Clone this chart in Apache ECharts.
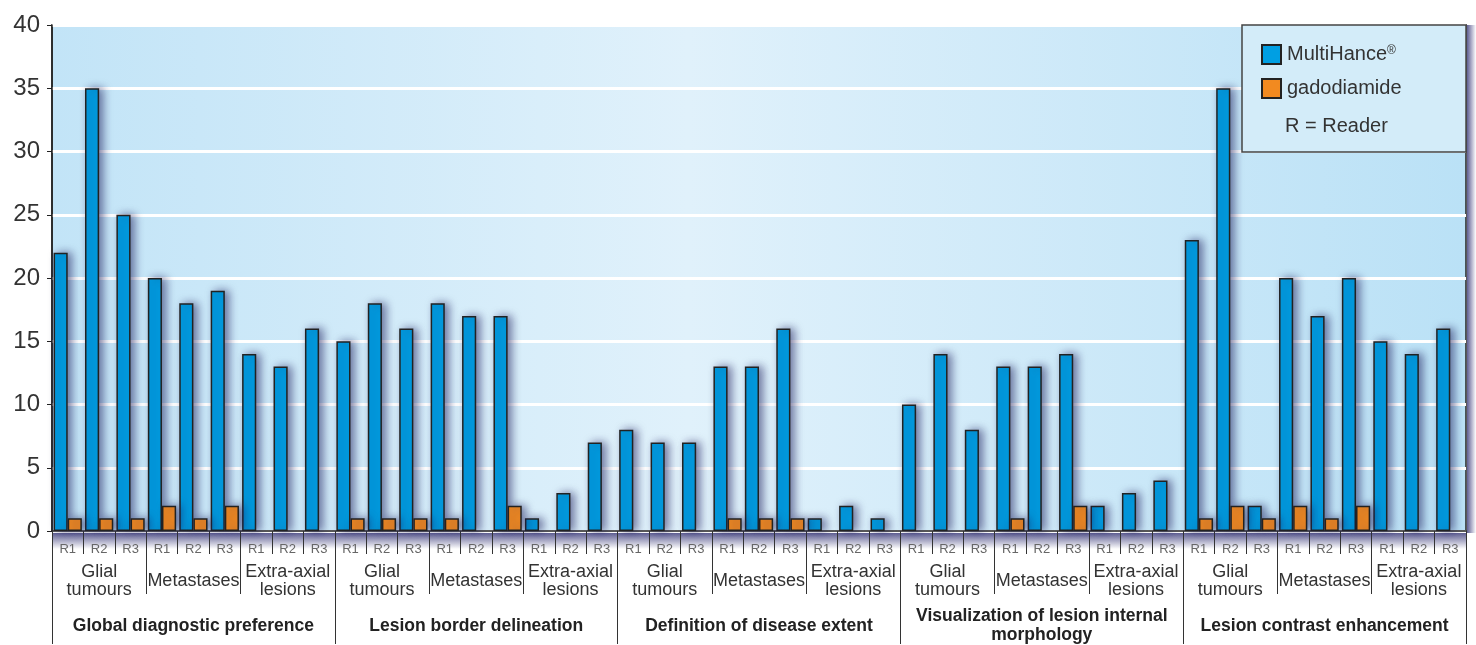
<!DOCTYPE html>
<html>
<head>
<meta charset="utf-8">
<script src="https://cdn.jsdelivr.net/npm/echarts@6/dist/echarts.min.js"></script>
<style>
  html, body { margin: 0; padding: 0; background: #fff; }
  #chart { width: 1476px; height: 645px; }
</style>
</head>
<body>
<div id="chart"></div>
<script>
var readers = ['R1', 'R2', 'R3'];
var lesionTypes = ['Glial\ntumours', 'Metastases', 'Extra-axial\nlesions'];
var criteria = [
  'Global diagnostic preference',
  'Lesion border delineation',
  'Definition of disease extent',
  'Visualization of lesion internal\nmorphology',
  'Lesion contrast enhancement'
];

// one row per criterion: glial R1-R3, metastases R1-R3, extra-axial R1-R3
var multiHance = [
  [22, 35, 25, 20, 18, 19, 14, 13, 16],
  [15, 18, 16, 18, 17, 17, 1, 3, 7],
  [8, 7, 7, 13, 13, 16, 1, 2, 1],
  [10, 14, 8, 13, 13, 14, 2, 3, 4],
  [23, 35, 2, 20, 17, 20, 15, 14, 16]
];
var gadodiamide = [
  [1, 1, 1, 2, 1, 2, 0, 0, 0],
  [1, 1, 1, 1, 0, 2, 0, 0, 0],
  [0, 0, 0, 1, 1, 1, 0, 0, 0],
  [0, 0, 0, 1, 0, 2, 0, 0, 0],
  [1, 2, 1, 2, 1, 2, 0, 0, 0]
];

var readerCats = [];
var typeCats = [];
criteria.forEach(function () {
  lesionTypes.forEach(function (t) {
    typeCats.push(t);
    readers.forEach(function (r) { readerCats.push(r); });
  });
});

function flat(rows) {
  var out = [];
  rows.forEach(function (r) {
    r.forEach(function (v) { out.push(v === 0 ? '-' : v); });
  });
  return out;
}

var myChart = echarts.init(document.getElementById('chart'));

var FONT = '"Liberation Sans", Arial, sans-serif';
var barShadow = {
  borderColor: '#222',
  borderWidth: 1.5,
  shadowColor: 'rgba(25,25,90,0.55)',
  shadowBlur: 8,
  shadowOffsetX: 4,
  shadowOffsetY: 0
};

var option = {
  animation: false,
  textStyle: { fontFamily: FONT },
  grid: {
    left: 52,
    right: 10,
    top: 25,
    bottom: 113,
    show: true,
    borderColor: '#222',
    borderWidth: 1.5,
    backgroundColor: new echarts.graphic.LinearGradient(0, 0, 1, 0, [
      { offset: 0, color: '#c2e4f7' },
      { offset: 0.45, color: '#e0f1fb' },
      { offset: 1, color: '#bae1f6' }
    ])
  },
  legend: {
    z: 10,
    left: 1256,
    top: 39,
    orient: 'vertical',
    icon: 'rect',
    itemWidth: 19,
    itemHeight: 19,
    itemGap: 13,
    formatter: function (name) {
      return name === 'MultiHance®' ? 'MultiHance{sup|®}' : name;
    },
    textStyle: {
      fontSize: 20, color: '#333', fontFamily: FONT, padding: [0, 0, 0, 1],
      rich: { sup: { fontSize: 12, color: '#333', fontFamily: FONT, padding: [0, 0, 8, 0] } }
    },
    data: ['MultiHance®', 'gadodiamide']
  },
  graphic: [
    {
      type: 'rect',
      z: 5,
      shape: { x: 1242, y: 25, width: 224, height: 127 },
      style: { fill: '#d3ecf9', stroke: '#444', lineWidth: 1.5 }
    },
    {
      type: 'text',
      z: 6,
      left: 1285,
      top: 116,
      style: { text: 'R = Reader', fontSize: 20, fill: '#333', fontFamily: FONT }
    },
    {
      type: 'rect',
      z: 0,
      shape: { x: 52, y: 533, width: 1414, height: 16 },
      style: {
        fill: new echarts.graphic.LinearGradient(0, 0, 0, 1, [
          { offset: 0, color: 'rgba(40,40,110,0.75)' },
          { offset: 1, color: 'rgba(40,40,110,0)' }
        ])
      }
    },
    {
      type: 'rect',
      z: 0,
      shape: { x: 1467, y: 25, width: 9, height: 508 },
      style: {
        fill: new echarts.graphic.LinearGradient(0, 0, 1, 0, [
          { offset: 0, color: 'rgba(40,40,110,0.75)' },
          { offset: 1, color: 'rgba(40,40,110,0)' }
        ])
      }
    }
  ],
  xAxis: [
    {
      type: 'category',
      position: 'bottom',
      data: readerCats,
      axisLine: { show: true, lineStyle: { color: '#222', width: 1.5 } },
      axisTick: { show: true, interval: 0, length: 23, lineStyle: { color: '#333' } },
      axisLabel: { interval: 0, margin: 18, verticalAlign: 'middle', fontSize: 13, color: '#666', fontFamily: FONT }
    },
    {
      type: 'category',
      position: 'bottom',
      data: typeCats,
      axisLine: { show: false },
      axisTick: { show: true, interval: 0, length: 63, lineStyle: { color: '#333' } },
      axisLabel: { interval: 0, margin: 50, verticalAlign: 'middle', fontSize: 18, lineHeight: 18, color: '#333', fontFamily: FONT }
    },
    {
      type: 'category',
      position: 'bottom',
      data: criteria,
      axisLine: { show: false },
      axisTick: { show: true, interval: 0, length: 113, lineStyle: { color: '#333' } },
      axisLabel: { interval: 0, margin: 95, verticalAlign: 'middle', fontSize: 17.5, lineHeight: 19, fontWeight: 'bold', color: '#222', fontFamily: FONT }
    }
  ],
  yAxis: {
    type: 'value',
    min: 0,
    max: 40,
    interval: 5,
    axisLine: { show: true, lineStyle: { color: '#222', width: 1.5 } },
    axisTick: { show: true, length: 5, lineStyle: { color: '#222' } },
    axisLabel: { fontSize: 24, color: '#333', margin: 12, fontFamily: FONT },
    splitLine: { show: true, lineStyle: { color: '#ffffff', width: 3 } }
  },
  series: [
    {
      name: 'MultiHance®',
      type: 'bar',
      xAxisIndex: 0,
      barGap: '0%',
      barCategoryGap: '10%',
      itemStyle: Object.assign({ color: '#009fe3' }, barShadow),
      data: flat(multiHance)
    },
    {
      name: 'gadodiamide',
      type: 'bar',
      xAxisIndex: 0,
      barGap: '0%',
      barCategoryGap: '10%',
      itemStyle: Object.assign({ color: '#f28a20' }, barShadow),
      data: flat(gadodiamide)
    }
  ]
};

myChart.setOption(option);
</script>
</body>
</html>
